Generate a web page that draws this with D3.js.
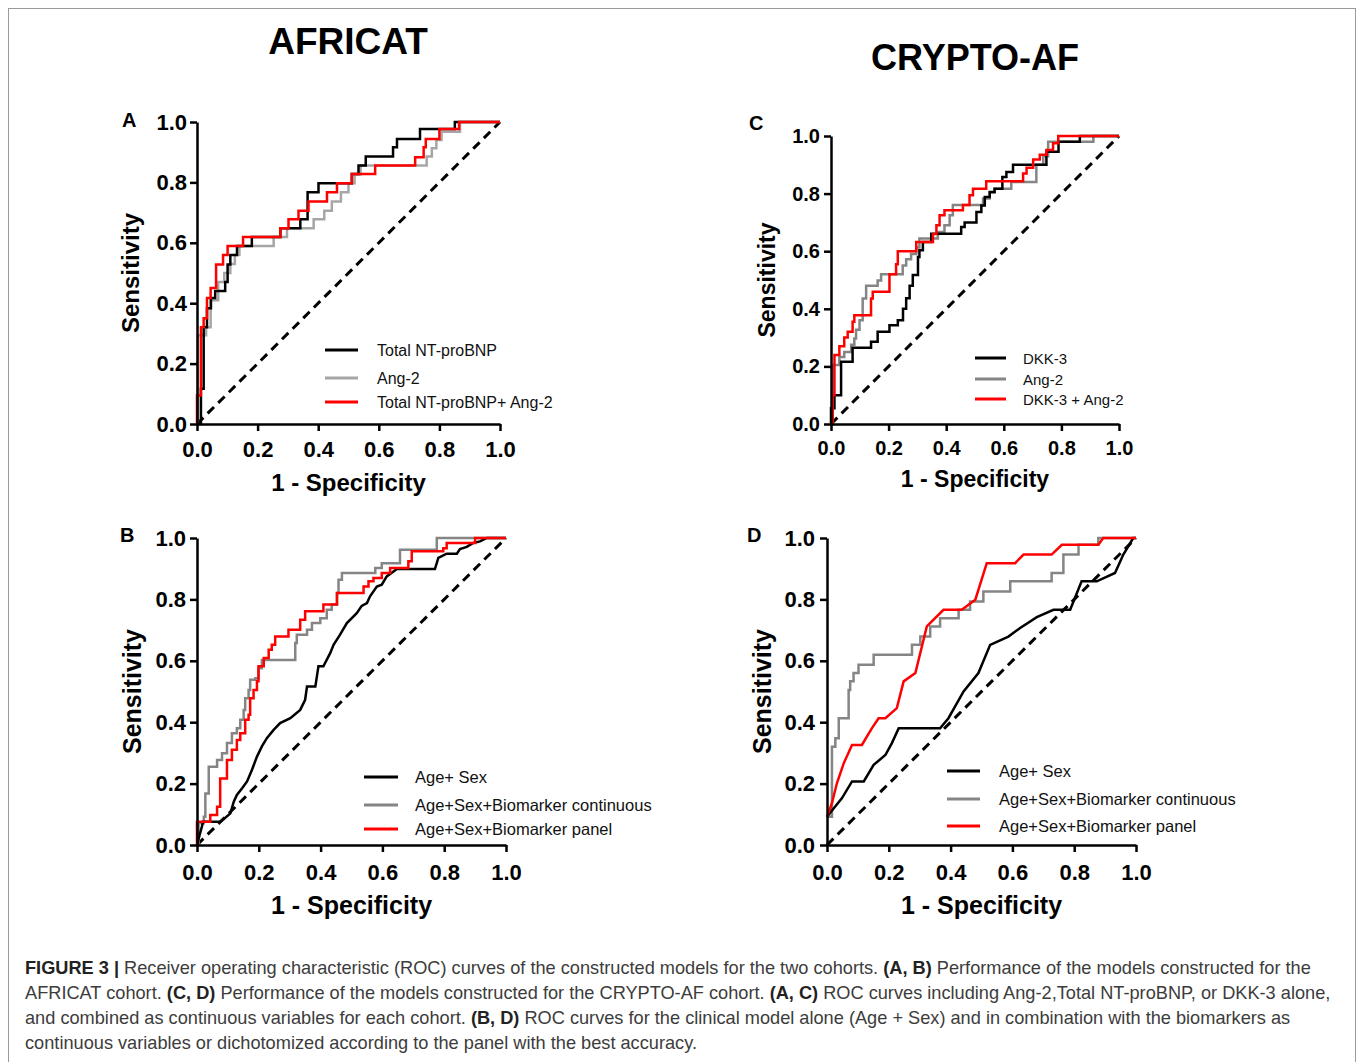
<!DOCTYPE html>
<html lang="en">
<head>
<meta charset="utf-8">
<title>Figure 3 ROC</title>
<script src="https://cdn.jsdelivr.net/npm/d3@7"></script>
<style>
  body { margin: 0; background: #fff; }
  svg text { font-family: "Liberation Sans", Arial, Helvetica, sans-serif; }
  .axis path, .axis line { stroke: #000; stroke-width: 2.5px; }
  .axis text { font-weight: bold; fill: #000; }
  .curve { fill: none; stroke-width: 2.5px; stroke-linejoin: miter; }
  .diag { stroke: #000; stroke-width: 3px; stroke-dasharray: 9,6; }
</style>
</head>
<body>
<script>
// tick labels shared by every panel
var ticks = [0, 0.2, 0.4, 0.6, 0.8, 1.0];

// ---- panel A : AFRICAT, single biomarkers  [1-specificity, sensitivity]
var aLegend = ["Total NT-proBNP", "Ang-2", "Total NT-proBNP+ Ang-2"];
var aNtprobnp = [[0,0],[0.013,0.117],[0.022,0.32],[0.033,0.383],[0.046,0.417],[0.06,0.44],[0.093,0.47],[0.101,0.528],[0.11,0.56],[0.132,0.589],[0.181,0.619],[0.275,0.648],[0.341,0.678],[0.365,0.767],[0.401,0.797],[0.511,0.828],[0.533,0.856],[0.557,0.886],[0.647,0.916],[0.66,0.944],[0.736,0.977],[0.851,1],[1,1]];
var aAng2 = [[0,0],[0.003,0.294],[0.03,0.32],[0.045,0.41],[0.07,0.47],[0.09,0.5],[0.11,0.53],[0.125,0.56],[0.14,0.589],[0.253,0.619],[0.297,0.648],[0.385,0.678],[0.42,0.706],[0.445,0.737],[0.475,0.767],[0.5,0.797],[0.52,0.826],[0.54,0.856],[0.758,0.886],[0.775,0.913],[0.79,0.94],[0.807,0.968],[0.868,1],[1,1]];
var aCombined = [[0,0],[0,0.094],[0.013,0.32],[0.022,0.35],[0.033,0.417],[0.045,0.45],[0.063,0.528],[0.086,0.56],[0.101,0.589],[0.152,0.619],[0.275,0.648],[0.302,0.678],[0.335,0.706],[0.368,0.737],[0.429,0.767],[0.462,0.797],[0.511,0.828],[0.588,0.856],[0.72,0.883],[0.748,0.916],[0.755,0.944],[0.8,0.977],[0.865,1],[1,1]];

// ---- panel C : CRYPTO-AF, single biomarkers
var cLegend = ["DKK-3", "Ang-2", "DKK-3 + Ang-2"];
var cDkk3 = [[0,0],[0,0.055],[0.012,0.1],[0.035,0.216],[0.075,0.265],[0.139,0.286],[0.162,0.32],[0.203,0.343],[0.232,0.36],[0.25,0.4],[0.261,0.437],[0.273,0.48],[0.284,0.517],[0.302,0.58],[0.307,0.603],[0.319,0.632],[0.348,0.661],[0.452,0.684],[0.464,0.7],[0.505,0.736],[0.522,0.759],[0.534,0.788],[0.551,0.805],[0.568,0.817],[0.595,0.858],[0.609,0.875],[0.632,0.9],[0.748,0.945],[0.79,0.98],[0.864,1],[1,1]];
var cAng2 = [[0,0],[0.006,0.205],[0.029,0.233],[0.046,0.25],[0.07,0.275],[0.081,0.297],[0.087,0.327],[0.099,0.36],[0.11,0.436],[0.122,0.48],[0.162,0.498],[0.174,0.52],[0.249,0.55],[0.261,0.572],[0.278,0.59],[0.296,0.613],[0.307,0.644],[0.371,0.667],[0.394,0.69],[0.412,0.725],[0.423,0.76],[0.528,0.783],[0.551,0.806],[0.568,0.817],[0.626,0.84],[0.713,0.9],[0.737,0.93],[0.754,0.98],[0.911,1],[1,1]];
var cCombined = [[0,0],[0.006,0.1],[0.012,0.24],[0.029,0.27],[0.046,0.3],[0.058,0.32],[0.075,0.355],[0.081,0.378],[0.139,0.436],[0.145,0.459],[0.203,0.52],[0.226,0.555],[0.232,0.6],[0.296,0.632],[0.354,0.66],[0.366,0.69],[0.377,0.725],[0.394,0.742],[0.458,0.76],[0.481,0.794],[0.493,0.817],[0.539,0.843],[0.667,0.87],[0.679,0.89],[0.702,0.918],[0.725,0.935],[0.748,0.951],[0.771,0.975],[0.789,1],[1,1]];

// ---- panel B : AFRICAT, clinical models
var bLegend = ["Age+ Sex", "Age+Sex+Biomarker continuous", "Age+Sex+Biomarker panel"];
var bAgeSex = [[0,0],[0.02,0.076],[0.075,0.076],[0.086,0.084],[0.108,0.103],[0.119,0.141],[0.129,0.163],[0.146,0.185],[0.162,0.207],[0.178,0.245],[0.194,0.288],[0.21,0.321],[0.226,0.348],[0.248,0.375],[0.269,0.397],[0.302,0.413],[0.334,0.44],[0.35,0.473],[0.356,0.516],[0.383,0.516],[0.393,0.582],[0.409,0.582],[0.431,0.625],[0.442,0.652],[0.463,0.685],[0.485,0.723],[0.517,0.755],[0.533,0.779],[0.55,0.788],[0.56,0.81],[0.582,0.842],[0.598,0.848],[0.614,0.875],[0.636,0.891],[0.647,0.899],[0.77,0.899],[0.781,0.935],[0.808,0.949],[0.841,0.949],[0.851,0.964],[0.873,0.971],[0.894,0.984],[0.916,0.989],[0.938,1],[1,1]];
var bContinuous = [[0,0],[0.005,0.071],[0.022,0.092],[0.027,0.168],[0.038,0.255],[0.065,0.277],[0.081,0.299],[0.097,0.332],[0.113,0.364],[0.129,0.38],[0.14,0.408],[0.151,0.44],[0.156,0.478],[0.167,0.505],[0.172,0.538],[0.189,0.543],[0.199,0.576],[0.21,0.603],[0.318,0.658],[0.323,0.685],[0.356,0.701],[0.372,0.723],[0.399,0.739],[0.42,0.766],[0.436,0.783],[0.453,0.821],[0.458,0.864],[0.469,0.886],[0.577,0.902],[0.598,0.918],[0.657,0.962],[0.776,1],[1,1]];
var bPanel = [[0,0],[0,0.076],[0.043,0.098],[0.065,0.125],[0.075,0.217],[0.097,0.277],[0.113,0.31],[0.129,0.342],[0.14,0.364],[0.156,0.408],[0.167,0.424],[0.172,0.478],[0.183,0.505],[0.194,0.533],[0.199,0.582],[0.216,0.609],[0.232,0.636],[0.242,0.652],[0.253,0.679],[0.296,0.701],[0.334,0.734],[0.35,0.761],[0.409,0.783],[0.453,0.821],[0.539,0.842],[0.555,0.859],[0.571,0.87],[0.598,0.886],[0.625,0.902],[0.684,0.924],[0.695,0.957],[0.797,0.967],[0.808,0.984],[0.9,1],[1,1]];

// ---- panel D : CRYPTO-AF, clinical models
var dLegend = ["Age+ Sex", "Age+Sex+Biomarker continuous", "Age+Sex+Biomarker panel"];
var dAgeSex = [[0,0.092],[0.022,0.12],[0.048,0.152],[0.081,0.207],[0.119,0.207],[0.151,0.261],[0.189,0.293],[0.21,0.332],[0.232,0.38],[0.366,0.38],[0.393,0.413],[0.442,0.5],[0.49,0.56],[0.528,0.652],[0.587,0.679],[0.625,0.707],[0.679,0.742],[0.733,0.766],[0.787,0.766],[0.824,0.859],[0.873,0.859],[0.932,0.886],[0.959,0.946],[0.991,1],[1,1]];
var dContinuous = [[0,0.092],[0.016,0.32],[0.027,0.348],[0.038,0.413],[0.07,0.505],[0.075,0.533],[0.086,0.56],[0.102,0.587],[0.151,0.62],[0.275,0.652],[0.302,0.679],[0.334,0.712],[0.366,0.739],[0.426,0.766],[0.463,0.793],[0.506,0.826],[0.593,0.859],[0.727,0.886],[0.765,0.946],[0.814,0.978],[0.878,1],[1,1]];
var dPanel = [[0,0.092],[0.016,0.136],[0.032,0.201],[0.054,0.266],[0.081,0.326],[0.113,0.326],[0.145,0.38],[0.167,0.413],[0.189,0.413],[0.226,0.446],[0.248,0.533],[0.286,0.56],[0.323,0.712],[0.377,0.766],[0.436,0.766],[0.48,0.799],[0.517,0.918],[0.609,0.918],[0.636,0.946],[0.727,0.946],[0.76,0.978],[0.878,0.978],[0.894,1],[1,1]];

var captionLines = [
  [["FIGURE 3 | ", true], ["Receiver operating characteristic (ROC) curves of the constructed models for the two cohorts. ", false], ["(A, B)", true], [" Performance of the models constructed for the", false]],
  [["AFRICAT cohort. ", false], ["(C, D)", true], [" Performance of the models constructed for the CRYPTO-AF cohort. ", false], ["(A, C)", true], [" ROC curves including Ang-2,Total NT-proBNP, or DKK-3 alone,", false]],
  [["and combined as continuous variables for each cohort. ", false], ["(B, D)", true], [" ROC curves for the clinical model alone (Age + Sex) and in combination with the biomarkers as", false]],
  [["continuous variables or dichotomized according to the panel with the best accuracy.", false]]
];

var svg = d3.select("body").append("svg")
    .attr("width", 1360)
    .attr("height", 1062);

// outer frame
svg.append("rect")
    .attr("x", 8.5).attr("y", 8.5)
    .attr("width", 1347).attr("height", 1100)
    .attr("fill", "none").attr("stroke", "#9a9a9a").attr("stroke-width", 1);

svg.append("text").attr("x", 348).attr("y", 54)
    .attr("text-anchor", "middle").attr("font-size", 37).attr("font-weight", "bold")
    .text("AFRICAT");
svg.append("text").attr("x", 975).attr("y", 70)
    .attr("text-anchor", "middle").attr("font-size", 36).attr("font-weight", "bold")
    .text("CRYPTO-AF");

var panels = [
  { label: "A", l: 197, r: 500, t: 122, b: 424, tickFont: 22, xPad: 10, yPad: 3, titleFont: 24,
    labX: 122, labY: 127, sensX: 139, specY: 491,
    series: [aAng2, aNtprobnp, aCombined], colors: ["#a6a6a6", "#000", "#ff0000"], steps: [true, true, true],
    legend: aLegend, legendColors: ["#000", "#a6a6a6", "#ff0000"],
    lg: { x1: 325, x2: 358, tx: 377, ys: [350, 378, 402], font: 16 } },
  { label: "C", l: 831, r: 1119, t: 136, b: 424, tickFont: 20, xPad: 10, yPad: 4, titleFont: 23,
    labX: 749, labY: 130, sensX: 775, specY: 487,
    series: [cAng2, cDkk3, cCombined], colors: ["#858585", "#000", "#ff0000"], steps: [true, true, true],
    legend: cLegend, legendColors: ["#000", "#858585", "#ff0000"],
    lg: { x1: 975, x2: 1006, tx: 1023, ys: [358, 379, 399], font: 15 } },
  { label: "B", l: 197, r: 506, t: 538, b: 845, tickFont: 22, xPad: 12, yPad: 4, titleFont: 25,
    labX: 120, labY: 542, sensX: 141, specY: 914,
    series: [bContinuous, bAgeSex, bPanel], colors: ["#858585", "#000", "#ff0000"], steps: [true, false, true],
    legend: bLegend, legendColors: ["#000", "#858585", "#ff0000"],
    lg: { x1: 364, x2: 398, tx: 415, ys: [777, 805, 829], font: 16.5 } },
  { label: "D", l: 827, r: 1136, t: 538, b: 845, tickFont: 22, xPad: 12, yPad: 5, titleFont: 25,
    labX: 747, labY: 542, sensX: 771, specY: 914,
    series: [dContinuous, dAgeSex, dPanel], colors: ["#858585", "#000", "#ff0000"], steps: [true, false, false],
    legend: dLegend, legendColors: ["#000", "#858585", "#ff0000"],
    lg: { x1: 947, x2: 980, tx: 999, ys: [771, 799, 826], font: 16.5 } }
];

panels.forEach(function(p) {
  var x = d3.scaleLinear().domain([0, 1]).range([p.l, p.r]);
  var y = d3.scaleLinear().domain([0, 1]).range([p.b, p.t]);
  var g = svg.append("g");

  // chance line
  g.append("line").attr("class", "diag")
      .attr("x1", x(0)).attr("y1", y(0)).attr("x2", x(1)).attr("y2", y(1));

  p.series.forEach(function(s, i) {
    var line = d3.line()
        .x(function(d) { return x(d[0]); })
        .y(function(d) { return y(d[1]); })
        .curve(p.steps[i] ? d3.curveStepAfter : d3.curveLinear);
    g.append("path").attr("class", "curve")
        .attr("stroke", p.colors[i])
        .attr("d", line(s));
  });

  g.append("g").attr("class", "axis")
      .attr("transform", "translate(0," + p.b + ")")
      .call(d3.axisBottom(x).tickValues(ticks).tickFormat(d3.format(".1f"))
        .tickSize(7).tickSizeOuter(0).tickPadding(p.xPad));
  g.append("g").attr("class", "axis")
      .attr("transform", "translate(" + p.l + ",0)")
      .call(d3.axisLeft(y).tickValues(ticks).tickFormat(d3.format(".1f"))
        .tickSize(7).tickSizeOuter(0).tickPadding(p.yPad));
  g.selectAll(".axis text").attr("font-size", p.tickFont)
      .style("font-family", "'Liberation Sans', Arial, sans-serif");

  g.append("text").attr("x", (p.l + p.r) / 2).attr("y", p.specY)
      .attr("text-anchor", "middle").attr("font-size", p.titleFont).attr("font-weight", "bold")
      .text("1 - Specificity");
  g.append("text")
      .attr("transform", "translate(" + p.sensX + "," + (p.t + p.b) / 2 + ") rotate(-90)")
      .attr("text-anchor", "middle").attr("font-size", p.titleFont).attr("font-weight", "bold")
      .text("Sensitivity");
  g.append("text").attr("x", p.labX).attr("y", p.labY)
      .attr("font-size", 20).attr("font-weight", "bold").text(p.label);

  p.legend.forEach(function(name, i) {
    var ly = p.lg.ys[i];
    g.append("line").attr("x1", p.lg.x1).attr("x2", p.lg.x2)
        .attr("y1", ly).attr("y2", ly)
        .attr("stroke", p.legendColors[i]).attr("stroke-width", 3);
    g.append("text").attr("x", p.lg.tx).attr("y", ly + 6)
        .attr("font-size", p.lg.font).attr("fill", "#111").text(name);
  });
});

// caption
var cap = svg.append("text").attr("font-size", 18.2).attr("fill", "#3c3c3c");
captionLines.forEach(function(parts, i) {
  var line = cap.append("tspan").attr("x", 25).attr("y", 974 + i * 25);
  parts.forEach(function(pt) {
    line.append("tspan")
        .attr("font-weight", pt[1] ? "bold" : "normal")
        .attr("fill", pt[1] ? "#222" : null)
        .text(pt[0]);
  });
});
</script>
</body>
</html>
